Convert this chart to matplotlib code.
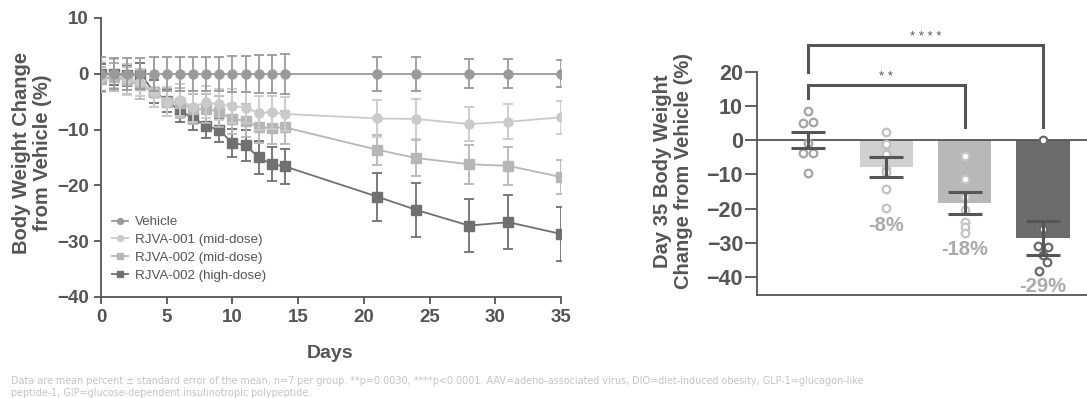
import matplotlib
matplotlib.use("Agg")
import matplotlib.pyplot as plt
from matplotlib.lines import Line2D
import numpy as np

plt.rcParams['font.family'] = ['Liberation Sans', 'DejaVu Sans']

# ---------------- data: time course ----------------
days = [0, 1, 2, 3, 4, 5, 6, 7, 8, 9, 10, 11, 12, 13, 14, 21, 24, 28, 31, 35]
series_names = ["Vehicle", "RJVA-001 (mid-dose)", "RJVA-002 (mid-dose)", "RJVA-002 (high-dose)"]
vehicle_mean = [0, 0, 0, 0, 0, 0, 0, 0, 0, 0, 0, 0, 0, 0, 0, 0, 0, 0, 0, 0]
vehicle_sem = [3.0, 2.8, 2.9, 2.8, 3.0, 3.1, 3.0, 3.0, 3.0, 3.0, 3.2, 3.2, 3.4, 3.4, 3.6, 3.0, 3.1, 2.6, 2.6, 2.4]
rjva001_mean = [-0.5, 0.0, -1.0, -1.5, -3.3, -5.0, -4.7, -5.9, -5.1, -5.5, -5.8, -6.1, -7.0, -6.9, -7.2, -8.0, -8.1, -9.0, -8.6, -7.8]
rjva001_sem = [2.6, 2.6, 2.8, 2.4, 2.7, 2.6, 2.8, 2.8, 2.9, 2.7, 3.0, 2.8, 3.1, 3.0, 3.1, 3.3, 3.5, 3.1, 3.1, 2.9]
rjva002mid_mean = [-1.0, -0.5, -1.2, -2.0, -3.3, -5.0, -5.2, -6.3, -6.3, -6.8, -8.1, -8.4, -9.6, -9.7, -9.6, -13.6, -15.1, -16.2, -16.5, -18.5]
rjva002mid_sem = [2.3, 2.5, 2.4, 2.6, 2.6, 2.5, 2.7, 2.7, 2.6, 2.8, 2.7, 2.9, 2.8, 2.9, 3.0, 2.7, 3.3, 3.5, 3.4, 3.1]
rjva002high_mean = [0.0, 0.0, -0.3, 0.0, -3.2, -4.8, -6.6, -7.9, -9.3, -10.1, -12.4, -12.8, -15.0, -16.2, -16.6, -22.0, -24.4, -27.2, -26.6, -28.7]
rjva002high_sem = [1.8, 2.0, 1.9, 2.0, 2.1, 2.0, 2.0, 2.2, 2.2, 2.2, 2.5, 2.8, 3.0, 3.0, 3.1, 4.3, 4.9, 4.8, 4.8, 4.9]

# ---------------- data: day 35 bar chart ----------------
groups = ["Vehicle", "RJVA-001 (mid-dose)", "RJVA-002 (mid-dose)", "RJVA-002 (high-dose)"]
day35_mean = [0.0, -7.8, -18.4, -28.6]
day35_sem = [2.4, 2.9, 3.2, 4.9]
pct_labels = ["", "-8%", "-18%", "-29%"]
vehicle_pts = [8.5, 5.0, 5.3, -0.8, -3.7, -3.7, -9.6]
vehicle_jit = [0, -0.065, 0.065, 0, -0.065, 0.065, 0]
rjva001_pts = [2.5, -1.1, -4.0, -8.4, -9.4, -14.4, -19.9]
rjva001_jit = [0, 0, 0, 0, 0, 0, 0]
rjva002mid_pts = [-4.5, -11.2, -16.5, -20.4, -23.8, -25.4, -27.0]
rjva002mid_jit = [0, 0, 0, 0, 0, 0, 0]
rjva002high_pts = [0.0, -25.9, -31.0, -31.3, -33.5, -35.7, -38.2]
rjva002high_jit = [0, 0, -0.06, 0.06, 0, 0.05, -0.05]
sig_pairs = [(0, 3, "****"), (0, 2, "**")]

# ---------------- styling ----------------
DARK = "#555555"
line_colors = ["#9a9a9a", "#cacaca", "#b6b6b6", "#707070"]
line_markers = ["o", "o", "s", "s"]
bar_colors = ["#9a9a9a", "#d0d0d0", "#b8b8b8", "#6c6c6c"]
pt_colors = ["#a4a4a4", "#c0c0c0", "#c4c4c4", "#686868"]

W, H = 1087, 398
fig = plt.figure(figsize=(W / 100, H / 100), dpi=100)

def fx(px):
    return px / W

def fy(py):
    return 1 - py / H

# ---------------- left chart ----------------
ax = fig.add_axes([fx(101), fy(297), fx(561) - fx(101), fy(18) - fy(297)])
means = [vehicle_mean, rjva001_mean, rjva002mid_mean, rjva002high_mean]
sems = [vehicle_sem, rjva001_sem, rjva002mid_sem, rjva002high_sem]
order = [3, 2, 1, 0]
for i in order:
    ax.errorbar(days, means[i], yerr=sems[i], color=line_colors[i], marker=line_markers[i],
                markersize=6.5, lw=1.3, elinewidth=1.3, capsize=3.5, capthick=1.3,
                zorder=3 + (3 - i))
leg_handles = [Line2D([], [], color=line_colors[i], marker=line_markers[i], markersize=6.5,
                      lw=1.3) for i in range(len(series_names))]
leg = ax.legend(leg_handles, series_names, loc="upper left",
                bbox_to_anchor=(0.012, 0.31), frameon=False, fontsize=9.6,
                handlelength=1.2, handletextpad=0.5, labelspacing=0.42, markerscale=0.65,
                borderaxespad=0)
for t in leg.get_texts():
    t.set_color(DARK)

ax.set_xlim(0, 35)
ax.set_ylim(-40, 10)
ax.set_xticks([0, 5, 10, 15, 20, 25, 30, 35])
ax.set_yticks([10, 0, -10, -20, -30, -40])
for s in ["top", "right"]:
    ax.spines[s].set_visible(False)
for s in ["left", "bottom"]:
    ax.spines[s].set_color(DARK)
    ax.spines[s].set_linewidth(1.3)
ax.tick_params(colors=DARK, width=1.3, length=5, labelsize=13.5, pad=4)
for lab in ax.get_xticklabels() + ax.get_yticklabels():
    lab.set_fontweight("bold")
fig.text(fx(330), fy(354), "Days", ha="center", va="center", fontsize=14,
         fontweight="bold", color=DARK)
fig.text(fx(32), fy(153), "Body Weight Change\nfrom Vehicle (%)", ha="center", va="center",
         rotation=90, fontsize=14.5, fontweight="bold", color=DARK, linespacing=1.1)

# ---------------- right chart ----------------
ymin2 = -45.3
ax2 = fig.add_axes([fx(757), fy(295), 1 - fx(757), fy(72) - fy(295)])
x = np.arange(len(groups))
ax2.bar(x, day35_mean, width=0.68, color=bar_colors, zorder=2)
ax2.axhline(0, color=DARK, lw=1.3, zorder=3)
all_pts = [vehicle_pts, rjva001_pts, rjva002mid_pts, rjva002high_pts]
all_jit = [vehicle_jit, rjva001_jit, rjva002mid_jit, rjva002high_jit]
for i in range(len(groups)):
    ax2.scatter(np.array(all_jit[i]) + x[i], all_pts[i], s=30, facecolor="white",
                edgecolor=pt_colors[i], linewidths=1.6, zorder=4, clip_on=False)
ax2.errorbar(x, day35_mean, yerr=day35_sem, fmt="none", ecolor=DARK, elinewidth=2.2,
             capsize=12, capthick=2.2, zorder=5)
for i, t in enumerate(pct_labels):
    if t:
        ypos = [0, -25.0, -32.0, -42.7][i]
        ax2.text(x[i], ypos, t, ha="center", va="center", fontsize=14.5, fontweight="bold",
                 color="#aaaaaa", zorder=6)

# significance brackets: (left leg start, bracket top, right leg end, text baseline)
br = {"****": (20, 28.0, 4.0, 29.4), "**": (12.3, 16.3, 4.0, 17.8)}
for a, b, txt in sig_pairs:
    y0, ytop, y1, ytxt = br[txt]
    ax2.plot([x[a], x[a], x[b], x[b]], [y0, ytop, ytop, y1], color=DARK, lw=2.2,
             clip_on=False, solid_joinstyle="miter", zorder=6)
    ax2.text((x[a] + x[b]) / 2, ytxt, " ".join(txt), ha="center", va="baseline",
             fontsize=9.5, color=DARK, clip_on=False)

ax2.set_xlim(-0.65, 3.56)
ax2.set_ylim(ymin2, 20)
ax2.set_yticks([20, 10, 0, -10, -20, -30, -40])
ax2.set_xticks([])
for s in ["top", "right"]:
    ax2.spines[s].set_visible(False)
for s in ["left", "bottom"]:
    ax2.spines[s].set_color(DARK)
    ax2.spines[s].set_linewidth(1.3)
ax2.tick_params(axis="y", colors=DARK, width=1.3, length=9, labelsize=15.5, pad=1)
for lab in ax2.get_yticklabels():
    lab.set_fontweight("bold")
fig.text(fx(673), fy(171), "Day 35 Body Weight\nChange from Vehicle (%)", ha="center",
         va="center", rotation=90, fontsize=14.5, fontweight="bold", color=DARK,
         linespacing=1.1)

# ---------------- footnote ----------------
foot1 = ("Data are mean percent \u00b1 standard error of the mean, n=7 per group. **p=0.0030, "
         "****p<0.0001. AAV=adeno-associated virus, DIO=diet-induced obesity, GLP-1=glucagon-like")
foot2 = "peptide-1, GIP=glucose-dependent insulinotropic polypeptide."
fig.text(fx(11), fy(381), foot1, ha="left", va="center", fontsize=6.9, color="#c4c4c4",
         family=["DejaVu Sans"])
fig.text(fx(11), fy(393), foot2, ha="left", va="center", fontsize=6.9, color="#c4c4c4",
         family=["DejaVu Sans"])

fig.savefig("out.png", dpi=100, facecolor="white")
